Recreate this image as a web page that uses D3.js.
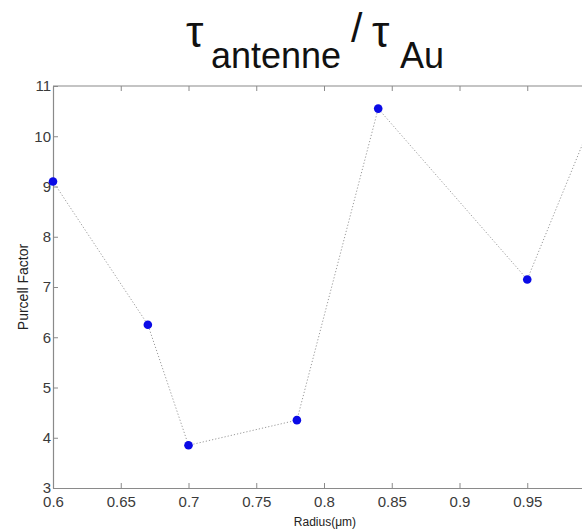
<!DOCTYPE html>
<html>
<head>
<meta charset="utf-8">
<script src="https://cdn.jsdelivr.net/npm/d3@7/dist/d3.min.js"></script>
<style>
  html, body { margin: 0; padding: 0; background: #fff; }
  svg { display: block; }
  text { font-family: "Liberation Sans", Arial, sans-serif; }
</style>
</head>
<body>
<svg id="chart" width="582" height="530"></svg>
<script>
// ---- data ----
const radius = [0.6, 0.67, 0.7, 0.78, 0.84, 0.95, 1.0];
const purcell = [9.1, 6.25, 3.85, 4.35, 10.55, 7.15, 10.45];
const xTicks = [0.6, 0.65, 0.7, 0.75, 0.8, 0.85, 0.9, 0.95];
const yTicks = [3, 4, 5, 6, 7, 8, 9, 10, 11];
const xDomain = [0.6, 1.0];
const yDomain = [3, 11];

// ---- layout ----
const svg = d3.select("#chart");
const plotLeft = 53, plotTop = 86, plotBottom = 488, plotRight = 595;

const x = d3.scaleLinear().domain(xDomain).range([plotLeft, plotRight]);
const y = d3.scaleLinear().domain(yDomain).range([plotBottom, plotTop]);

const axisColor = "#8a8a8a";
const labelColor = "#3a3a3a";

// top frame line
svg.append("line").attr("x1", plotLeft).attr("x2", plotRight).attr("y1", plotTop).attr("y2", plotTop)
  .attr("stroke", axisColor).attr("stroke-width", 1.2);

// bottom axis
const gx = svg.append("g").attr("transform", `translate(0,${plotBottom})`)
  .call(d3.axisBottom(x).tickValues(xTicks).tickSizeInner(-5).tickSizeOuter(0)
    .tickPadding(10).tickFormat(d => String(+d.toFixed(2))));
gx.select(".domain").attr("stroke", axisColor).attr("stroke-width", 1.2);
gx.selectAll(".tick line").attr("stroke", axisColor);
gx.selectAll(".tick text").attr("font-size", 15).attr("fill", labelColor)
  .attr("font-family", "Liberation Sans, Arial, sans-serif").attr("dy", "0.62em");

// top ticks
const gt = svg.append("g").attr("transform", `translate(0,${plotTop})`)
  .call(d3.axisTop(x).tickValues(xTicks).tickSizeInner(-5).tickSizeOuter(0).tickFormat(""));
gt.select(".domain").remove();
gt.selectAll(".tick line").attr("stroke", axisColor);

// left axis
const gy = svg.append("g").attr("transform", `translate(${plotLeft},0)`)
  .call(d3.axisLeft(y).tickValues(yTicks).tickSizeInner(-5).tickSizeOuter(0).tickPadding(2));
gy.select(".domain").attr("stroke", axisColor).attr("stroke-width", 1.2);
gy.selectAll(".tick line").attr("stroke", axisColor);
gy.selectAll(".tick text").attr("font-size", 15).attr("fill", labelColor)
  .attr("font-family", "Liberation Sans, Arial, sans-serif");

// data line (dotted)
const line = d3.line().x((d, i) => x(radius[i])).y(d => y(d));
svg.append("path").datum(purcell)
  .attr("d", line)
  .attr("fill", "none")
  .attr("stroke", "#9a9a9a")
  .attr("stroke-width", 1)
  .attr("stroke-dasharray", "1.2,2");

// markers
svg.append("g").selectAll("circle").data(purcell).join("circle")
  .attr("cx", (d, i) => x(radius[i]))
  .attr("cy", d => y(d))
  .attr("r", 4.3)
  .attr("fill", "#0a0ae6");

// axis labels
svg.append("text").attr("x", 325).attr("y", 526).attr("text-anchor", "middle")
  .attr("font-size", 12).attr("fill", "#222").text("Radius(μm)");
svg.append("text").attr("transform", "translate(28,287) rotate(-90)")
  .attr("text-anchor", "middle").attr("font-size", 14).attr("fill", "#222")
  .text("Purcell Factor");

// title: τ_antenne / τ_Au
const title = svg.append("g").attr("fill", "#111");
title.append("text").attr("x", 186).attr("y", 47).attr("font-size", 44)
  .attr("font-family", "DejaVu Sans, sans-serif").text("τ");
title.append("text").attr("x", 211).attr("y", 68).attr("font-size", 36).text("antenne");
title.append("text").attr("x", 351).attr("y", 42).attr("font-size", 41).text("/");
title.append("text").attr("x", 372).attr("y", 47).attr("font-size", 44)
  .attr("font-family", "DejaVu Sans, sans-serif").text("τ");
title.append("text").attr("x", 400).attr("y", 68).attr("font-size", 36).text("Au");
</script>
</body>
</html>
